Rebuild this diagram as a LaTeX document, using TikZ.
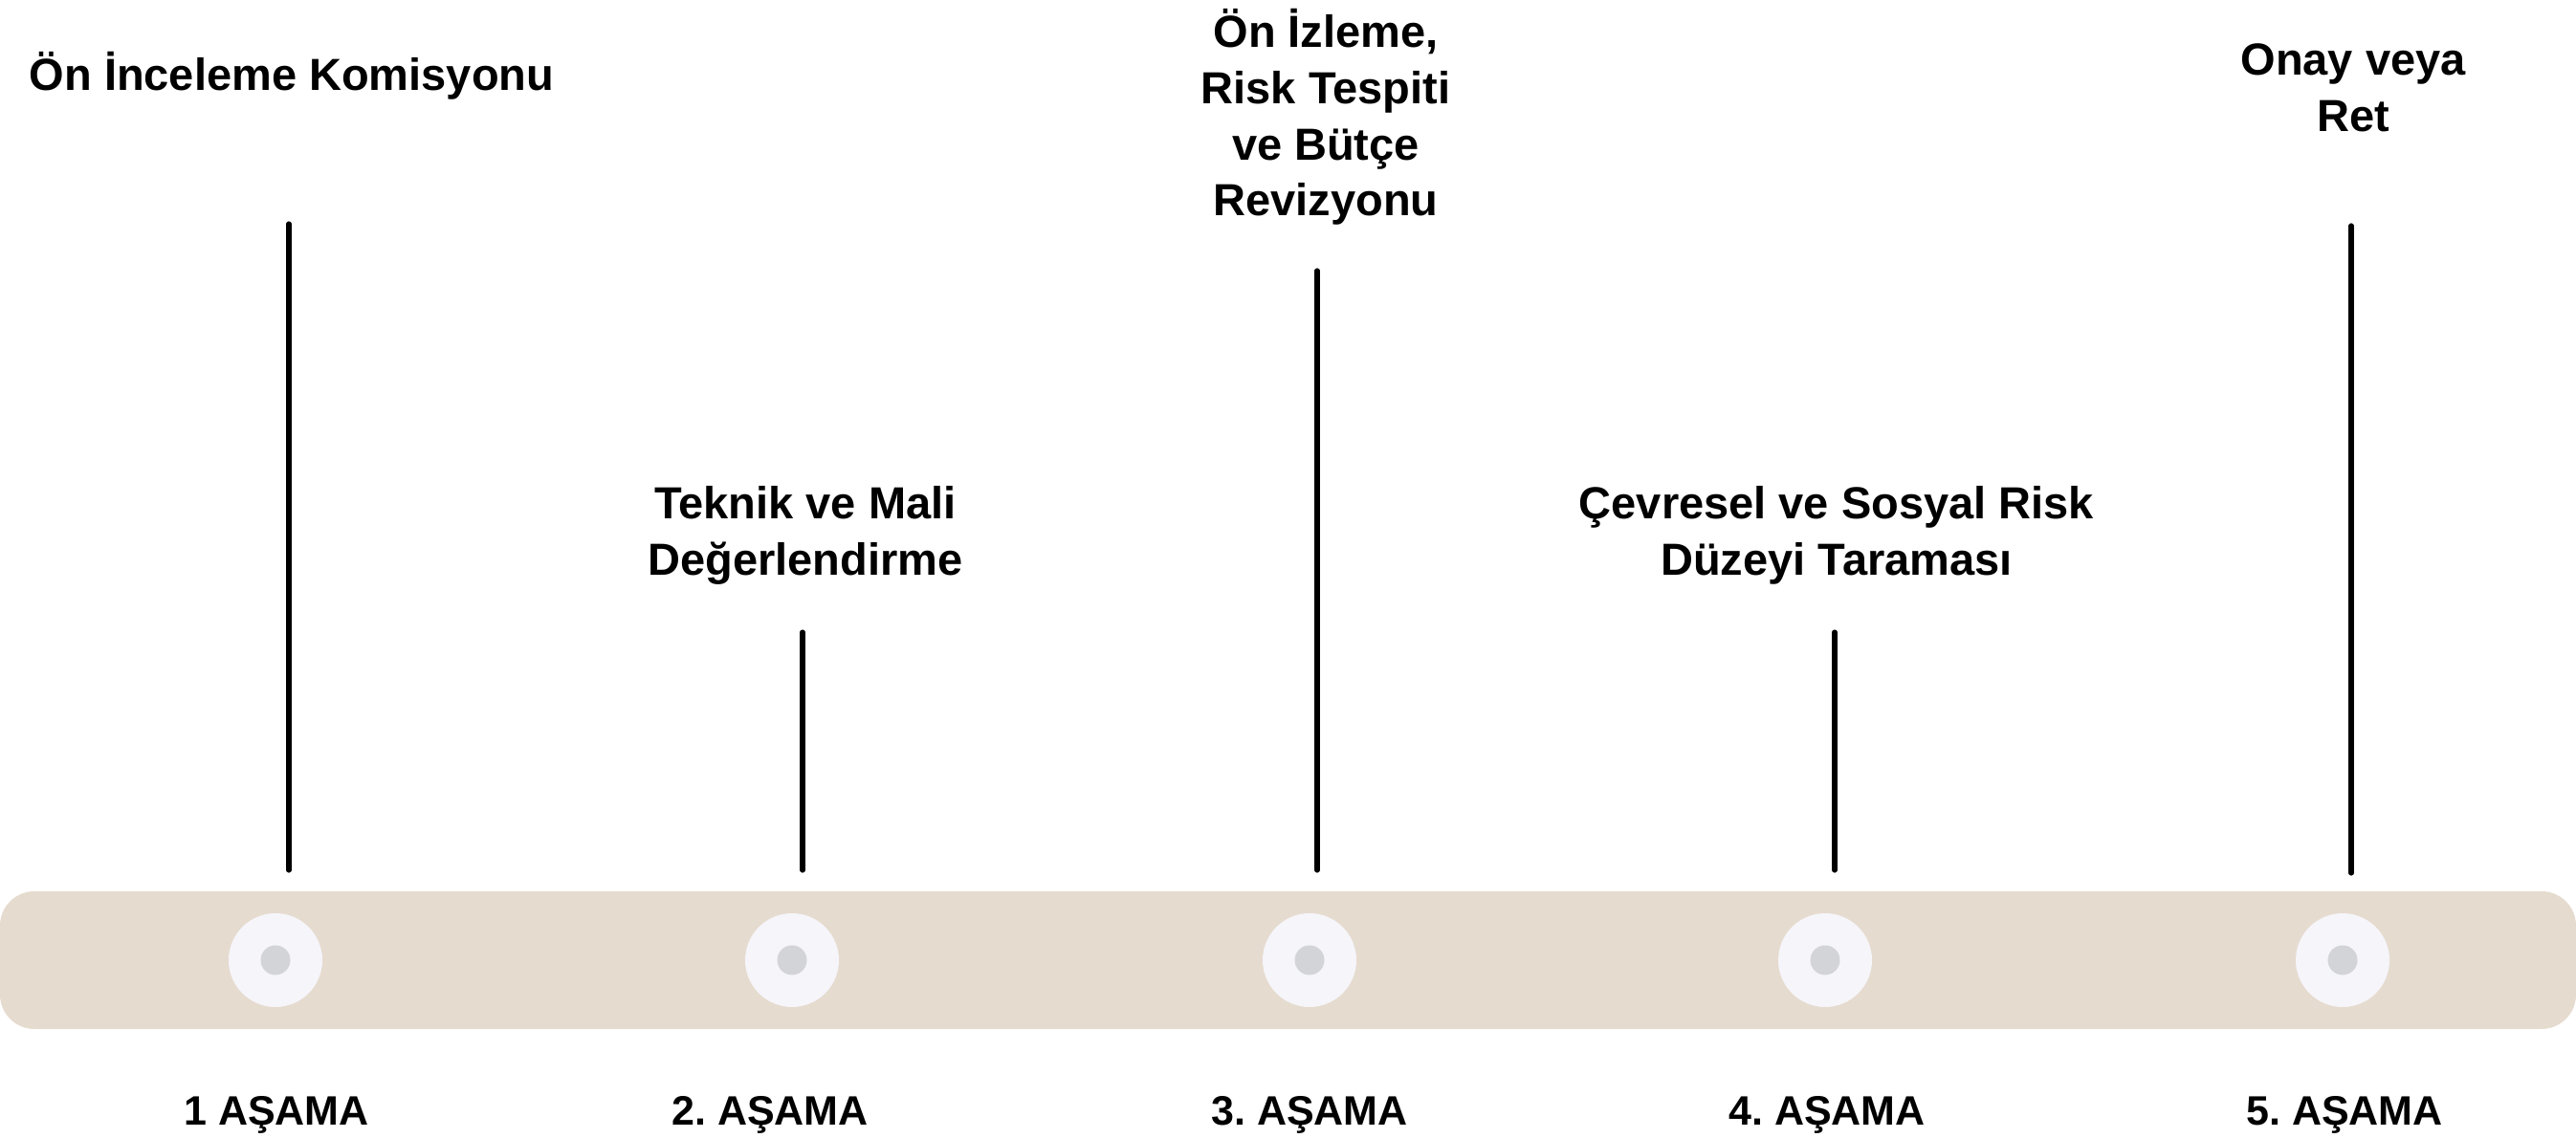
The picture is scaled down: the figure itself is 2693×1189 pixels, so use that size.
\documentclass[tikz,border=0pt]{standalone}
\usepackage{fontspec}
\setmainfont{Liberation Sans}
\frenchspacing
\definecolor{bandcol}{HTML}{E6DBCF}
\definecolor{outercol}{HTML}{F5F5FA}
\definecolor{innercol}{HTML}{D3D4D8}
\begin{document}
\begin{tikzpicture}[x=0.5pt,y=-0.5pt,
  toplbl/.style={anchor=base,inner sep=0pt,font=\fontsize{23.5}{29.5}\selectfont\bfseries},
  botlbl/.style={anchor=base,inner sep=0pt,font=\fontsize{21.5}{26}\selectfont\bfseries},
  stem/.style={line width=2.6pt,line cap=round,black},
  outerdot/.style={circle,fill=outercol,minimum size=49pt,inner sep=0pt},
  innerdot/.style={circle,fill=innercol,minimum size=15.5pt,inner sep=0pt}]
\fill[white] (0,0) rectangle (2693,1189);
\path[use as bounding box] (0,0) rectangle (2693,1189);
% band
\fill[bandcol,rounded corners=18pt] (0,932) rectangle (2693,1076);
% circles
\foreach \i/\x in {1/288,2/828,3/1369,4/1908,5/2449}{
  \node[outerdot] (o\i) at (\x,1004) {};
  \node[innerdot] (c\i) at (\x,1004) {};
}
% stems
\coordinate (s1t) at (302,234);  \coordinate (s1b) at (302,910);
\coordinate (s2t) at (839,661);  \coordinate (s2b) at (839,910);
\coordinate (s3t) at (1377,283); \coordinate (s3b) at (1377,910);
\coordinate (s4t) at (1918,661); \coordinate (s4b) at (1918,910);
\coordinate (s5t) at (2458,236); \coordinate (s5b) at (2458,913);
\foreach \i in {1,...,5}{\draw[stem] (s\i t) -- (s\i b);}
% top labels
\node[toplbl] (t1) at (305,94) {Ön İnceleme Komisyonu};
\node[toplbl] (t2a) at (842,542) {Teknik ve Mali};
\node[toplbl] (t2b) at (842,601) {Değerlendirme};
\node[toplbl] (t3a) at (1386,49) {Ön İzleme,};
\node[toplbl] (t3b) at (1386,108) {Risk Tespiti};
\node[toplbl] (t3c) at (1386,167) {ve Bütçe};
\node[toplbl] (t3d) at (1386,225) {Revizyonu};
\node[toplbl] (t4a) at (1920,542) {Çevresel ve Sosyal Risk};
\node[toplbl] (t4b) at (1920,601) {Düzeyi Taraması};
\node[toplbl] (t5a) at (2460,78) {Onay veya};
\node[toplbl] (t5b) at (2460,137) {Ret};
% bottom labels
\node[botlbl] (b1) at (289,1176) {1 AŞAMA};
\node[botlbl] (b2) at (805,1176) {2. AŞAMA};
\node[botlbl] (b3) at (1369,1176) {3. AŞAMA};
\node[botlbl] (b4) at (1910,1176) {4. AŞAMA};
\node[botlbl] (b5) at (2451,1176) {5. AŞAMA};
\end{tikzpicture}
\end{document}
